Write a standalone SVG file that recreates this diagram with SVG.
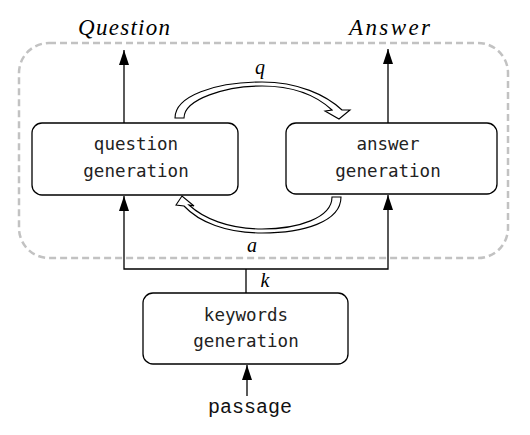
<svg xmlns="http://www.w3.org/2000/svg" width="530" height="435" viewBox="0 0 530 435">
<style>
.box{fill:#fff;stroke:#000;stroke-width:1.3}
.lbl{font-family:"DejaVu Sans Mono","Liberation Mono",monospace;font-size:17.5px;fill:#222;text-anchor:middle}
.it{font-family:"Liberation Serif",serif;font-style:italic;fill:#000;text-anchor:middle}
.ln{fill:none;stroke:#000;stroke-width:1.3}
.cv{fill:#fff;stroke:#000;stroke-width:1.1;stroke-linejoin:miter}
</style>
<defs>
<marker id="ah" markerUnits="userSpaceOnUse" markerWidth="16" markerHeight="12" viewBox="0 0 16 12" refX="15" refY="6" orient="auto-start-reverse">
<path d="M0,1 L15,6 L0,11 Z" fill="#000"/>
</marker>
</defs>
<rect x="19" y="43" width="489" height="215" rx="30" fill="none" stroke="#c2c2c2" stroke-width="2.5" stroke-dasharray="7,4"/>
<text class="it" x="124" y="35" font-size="23" textLength="92" lengthAdjust="spacing">Question</text>
<text class="it" x="389.5" y="35" font-size="23" textLength="81" lengthAdjust="spacing">Answer</text>
<g id="connectors">
<line class="ln" x1="124" y1="123" x2="124" y2="50" marker-end="url(#ah)"/>
<line class="ln" x1="388" y1="123" x2="388" y2="49" marker-end="url(#ah)"/>
<polyline class="ln" points="246,293 246,269"/>
<polyline class="ln" points="124,196 124,269 388,269 388,195" marker-start="url(#ah)" marker-end="url(#ah)"/>
<line class="ln" x1="247" y1="396" x2="247" y2="365" marker-end="url(#ah)"/>
<path class="cv" d="M175,118 C175,96 215,82 262,82 C298,82 326,95 342,110 L350,110 L339,119 L325,111 L332,110 C318,97 296,86 262,86 C226,86 184,99 184,118 Z"/>
<path class="cv" d="M332,197 L341,197 C341,222 303,233 262,233 C226,233 199,222 184,206 L176,205 L182,196 L194,206 L189,205 C203,218 228,229 262,229 C298,229 332,218 332,197 Z"/>
<text class="it" x="260" y="74" font-size="20">q</text>
<text class="it" x="252" y="252" font-size="20">a</text>
<text class="it" x="265" y="287" font-size="20">k</text>
</g>
<g id="question-generation">
<rect class="box" x="32" y="123" width="206" height="72" rx="10"/>
<text class="lbl" x="136" y="150">question</text>
<text class="lbl" x="136" y="177">generation</text>
</g>
<g id="answer-generation">
<rect class="box" x="286" y="123" width="211" height="71" rx="10"/>
<text class="lbl" x="388" y="150">answer</text>
<text class="lbl" x="388" y="177">generation</text>
</g>
<g id="keywords-generation">
<rect class="box" x="143" y="293" width="205" height="71" rx="10"/>
<text class="lbl" x="246" y="321">keywords</text>
<text class="lbl" x="246" y="347">generation</text>
</g>
<g id="passage">
<text x="250" y="413" font-family="Liberation Mono, monospace" font-size="20" text-anchor="middle" fill="#111">passage</text>
</g>
</svg>
